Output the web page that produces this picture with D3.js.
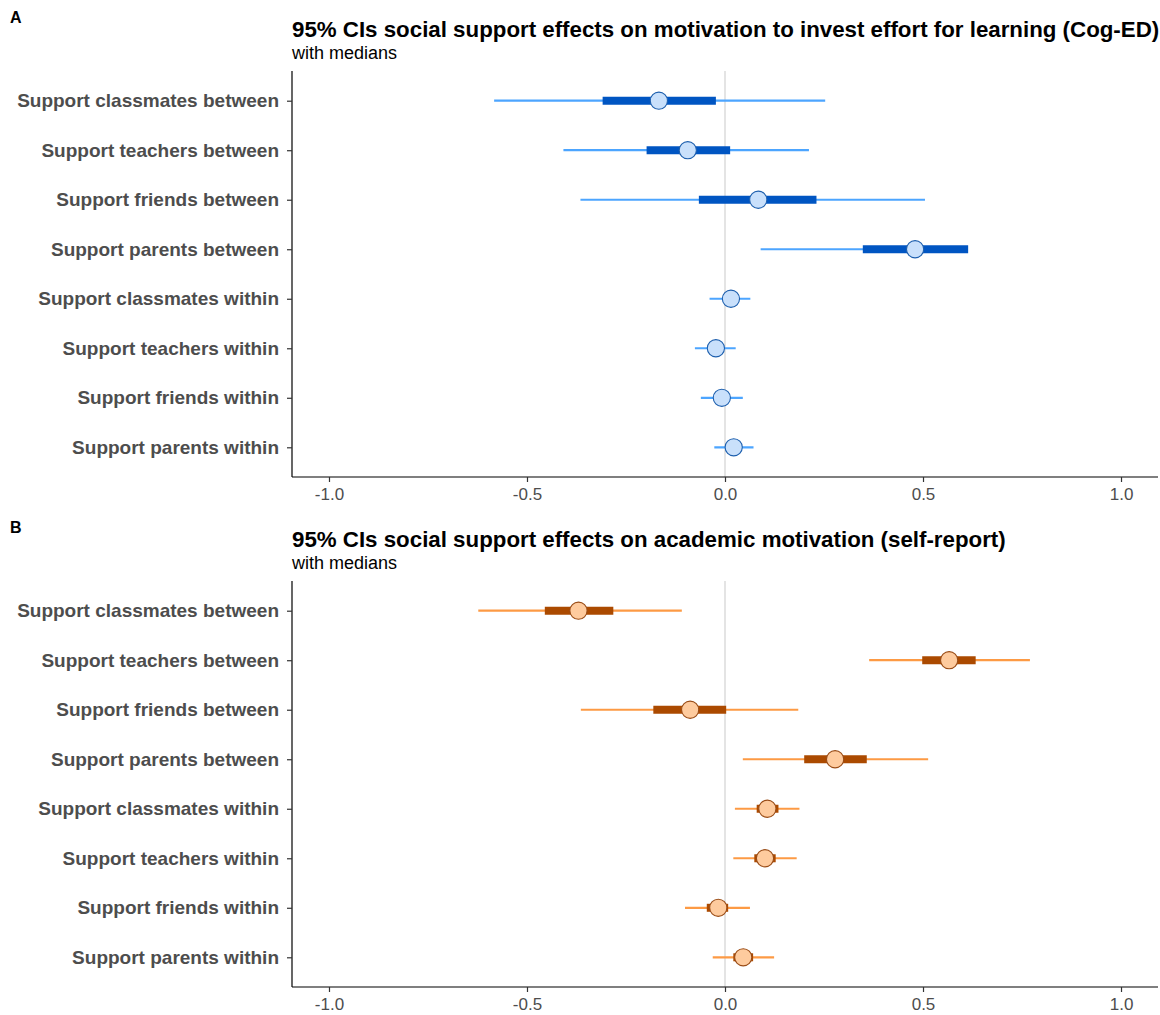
<!DOCTYPE html>
<html>
<head>
<meta charset="utf-8">
<script src="https://cdn.jsdelivr.net/npm/d3@7"></script>
<style>
  html, body { margin: 0; padding: 0; background: #fff; }
  svg { display: block; font-family: "Liberation Sans", Arial, sans-serif; }
</style>
</head>
<body>
<svg id="chart" width="1160" height="1015"></svg>
<script>
// ---- Data ----
const categories = [
  "Support classmates between",
  "Support teachers between",
  "Support friends between",
  "Support parents between",
  "Support classmates within",
  "Support teachers within",
  "Support friends within",
  "Support parents within"
];
const xTicks = [-1.0, -0.5, 0.0, 0.5, 1.0];
const xTickLabels = ["-1.0", "-0.5", "0.0", "0.5", "1.0"];

// Panel A (Cog-ED)
const aOuterLow  = [-0.583, -0.408, -0.365, 0.090, -0.039, -0.076, -0.061, -0.027];
const aOuterHigh = [ 0.253,  0.212,  0.505, 0.418,  0.064,  0.027,  0.045,  0.072];
const aInnerLow  = [-0.309, -0.198, -0.066, 0.348,  0.008, -0.026, -0.012,  0.018];
const aInnerHigh = [-0.023,  0.013,  0.231, 0.614,  0.022, -0.020, -0.004,  0.026];
const aMedian    = [-0.167, -0.094,  0.084, 0.480,  0.015, -0.023, -0.008,  0.022];

// Panel B (self-report)
const bOuterLow  = [-0.623, 0.364, -0.364, 0.045, 0.025, 0.021, -0.101, -0.031];
const bOuterHigh = [-0.109, 0.770,  0.185, 0.513, 0.188, 0.181,  0.063,  0.124];
const bInnerLow  = [-0.455, 0.498, -0.181, 0.200, 0.080, 0.074, -0.046,  0.021];
const bInnerHigh = [-0.282, 0.633,  0.003, 0.358, 0.135, 0.128,  0.008,  0.071];
const bMedian    = [-0.370, 0.566, -0.088, 0.278, 0.107, 0.101, -0.017,  0.046];

const panels = [
  {
    tag: "A",
    title: "95% CIs social support effects on motivation to invest effort for learning (Cog-ED)",
    subtitle: "with medians",
    lo: aOuterLow, hi: aOuterHigh, ilo: aInnerLow, ihi: aInnerHigh, med: aMedian,
    top: 71, bottom: 477,
    colors: { outer: "#4ca5ff", inner: "#0055c2", fill: "#c9e0fb", stroke: "#1d5fae" }
  },
  {
    tag: "B",
    title: "95% CIs social support effects on academic motivation (self-report)",
    subtitle: "with medians",
    lo: bOuterLow, hi: bOuterHigh, ilo: bInnerLow, ihi: bInnerHigh, med: bMedian,
    top: 581, bottom: 987,
    colors: { outer: "#fd9a44", inner: "#ab4a00", fill: "#fecb9e", stroke: "#9a4c16" }
  }
];

const svg = d3.select("#chart");
const left = 292, right = 1158;
const x = d3.scaleLinear().domain([-1.0934, 1.0934]).range([left, right]);

panels.forEach(p => {
  const g = svg.append("g");
  const rows = categories.map((c, i) => ({
    cat: c, lo: p.lo[i], hi: p.hi[i], ilo: p.ilo[i], ihi: p.ihi[i], med: p.med[i]
  }));

  const y = d3.scalePoint().domain(categories).range([p.top, p.bottom]).padding(0.6);

  // Tag, title, subtitle
  g.append("text").attr("x", 10).attr("y", p.top - 48)
    .attr("font-size", 16).attr("font-weight", "bold").attr("fill", "#000").text(p.tag);
  g.append("text").attr("x", left).attr("y", p.top - 34)
    .attr("font-size", 22.3).attr("font-weight", "bold").attr("fill", "#000").text(p.title);
  g.append("text").attr("x", left).attr("y", p.top - 12)
    .attr("font-size", 18).attr("fill", "#000").text(p.subtitle);

  // zero reference line
  g.append("line")
    .attr("x1", x(0)).attr("x2", x(0))
    .attr("y1", p.top).attr("y2", p.bottom)
    .attr("stroke", "#dedede").attr("stroke-width", 1.6);

  // outer intervals
  g.selectAll(".outer").data(rows).join("line")
    .attr("x1", d => x(d.lo)).attr("x2", d => x(d.hi))
    .attr("y1", d => y(d.cat)).attr("y2", d => y(d.cat))
    .attr("stroke", p.colors.outer).attr("stroke-width", 2.2);

  // inner intervals
  g.selectAll(".inner").data(rows).join("line")
    .attr("x1", d => x(d.ilo)).attr("x2", d => x(d.ihi))
    .attr("y1", d => y(d.cat)).attr("y2", d => y(d.cat))
    .attr("stroke", p.colors.inner).attr("stroke-width", 8);

  // medians
  g.selectAll(".pt").data(rows).join("circle")
    .attr("cx", d => x(d.med)).attr("cy", d => y(d.cat)).attr("r", 8.6)
    .attr("fill", p.colors.fill).attr("stroke", p.colors.stroke).attr("stroke-width", 1.1);

  // y axis
  const yAxis = g.append("g").attr("transform", `translate(${left},0)`)
    .call(d3.axisLeft(y).tickSize(5).tickPadding(8));
  yAxis.select(".domain").attr("stroke", "#000").attr("stroke-width", 1.2)
    .attr("d", `M0,${p.top}V${p.bottom}`);
  yAxis.selectAll(".tick line").attr("stroke", "#333").attr("stroke-width", 1.2);
  yAxis.selectAll(".tick text").attr("font-size", 19).attr("font-weight", "bold")
    .attr("fill", "#4d4d4d").attr("font-family", "Liberation Sans, Arial, sans-serif");

  // x axis
  const xAxis = g.append("g").attr("transform", `translate(0,${p.bottom})`)
    .call(d3.axisBottom(x).tickValues(xTicks)
      .tickFormat((d, i) => xTickLabels[i]).tickSize(5).tickPadding(6));
  xAxis.select(".domain").attr("stroke", "#000").attr("stroke-width", 1.2)
    .attr("d", `M${left},0H${right}`);
  xAxis.selectAll(".tick line").attr("stroke", "#333").attr("stroke-width", 1.2);
  xAxis.selectAll(".tick text").attr("font-size", 17).attr("fill", "#4d4d4d")
    .attr("font-family", "Liberation Sans, Arial, sans-serif");
});
</script>
</body>
</html>
